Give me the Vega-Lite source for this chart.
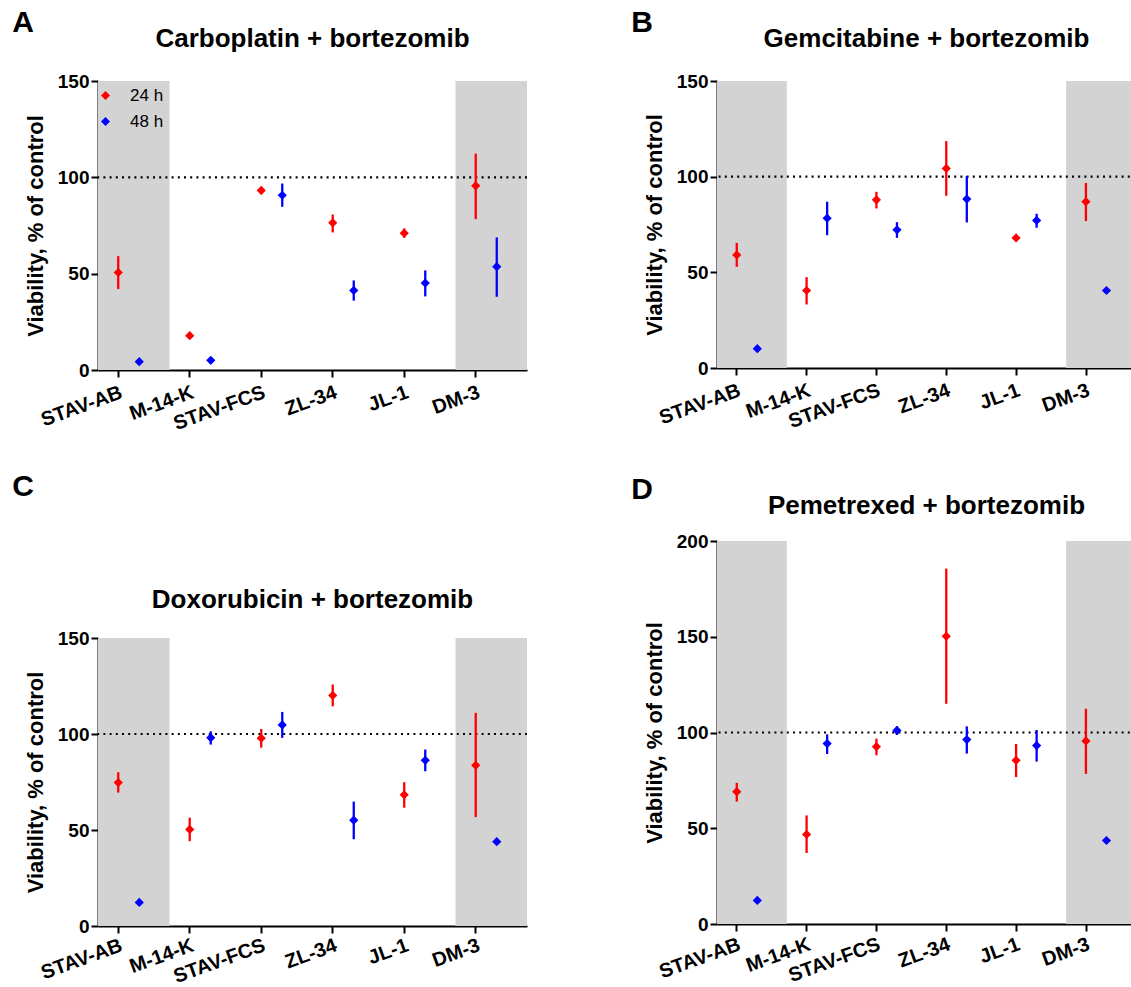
{
  "$schema": "https://vega.github.io/schema/vega-lite/v6.json",
  "padding": {"left": 12, "top": 8, "right": 0, "bottom": 0},
  "background": "white",
  "config": {
    "view": {"stroke": null},
    "font": "Liberation Sans",
    "axis": {"domainColor": "black", "domainWidth": 2, "tickColor": "black", "tickWidth": 2, "tickSize": 7, "labelFont": "Liberation Sans", "labelFontSize": 19, "labelFontWeight": "bold", "labelColor": "black", "titleFont": "Liberation Sans", "titleFontSize": 22, "titleFontWeight": "bold", "titleColor": "black", "grid": false},
    "legend": {"padding": 0, "symbolType": "diamond", "symbolSize": 80, "symbolStrokeWidth": 0, "labelFontSize": 17, "labelFont": "Liberation Sans", "labelFontWeight": "normal", "labelColor": "black", "labelOffset": 16, "rowPadding": 8},
    "title": {"font": "Liberation Sans", "fontWeight": "bold", "color": "black"}
  },
  "datasets": {
    "grey": [{"cell": "STAV-AB"}, {"cell": "DM-3"}],
    "pts": [
      {"panel": "A", "cell": "STAV-AB", "time": "24 h", "mean": 50.6, "lo": 42.0, "hi": 59.1},
      {"panel": "A", "cell": "STAV-AB", "time": "48 h", "mean": 4.3},
      {"panel": "A", "cell": "M-14-K", "time": "24 h", "mean": 17.8},
      {"panel": "A", "cell": "M-14-K", "time": "48 h", "mean": 5.0},
      {"panel": "A", "cell": "STAV-FCS", "time": "24 h", "mean": 93.2, "lo": 91.2, "hi": 95.1},
      {"panel": "A", "cell": "STAV-FCS", "time": "48 h", "mean": 90.7, "lo": 84.7, "hi": 96.8},
      {"panel": "A", "cell": "ZL-34", "time": "24 h", "mean": 76.4, "lo": 71.4, "hi": 80.7},
      {"panel": "A", "cell": "ZL-34", "time": "48 h", "mean": 41.3, "lo": 36.0, "hi": 46.5},
      {"panel": "A", "cell": "JL-1", "time": "24 h", "mean": 71.0, "lo": 68.6, "hi": 73.5},
      {"panel": "A", "cell": "JL-1", "time": "48 h", "mean": 45.1, "lo": 38.2, "hi": 51.7},
      {"panel": "A", "cell": "DM-3", "time": "24 h", "mean": 95.6, "lo": 78.3, "hi": 112.3},
      {"panel": "A", "cell": "DM-3", "time": "48 h", "mean": 53.6, "lo": 38.0, "hi": 68.8},
      {"panel": "B", "cell": "STAV-AB", "time": "24 h", "mean": 59.1, "lo": 52.9, "hi": 65.4},
      {"panel": "B", "cell": "STAV-AB", "time": "48 h", "mean": 10.1},
      {"panel": "B", "cell": "M-14-K", "time": "24 h", "mean": 40.5, "lo": 33.2, "hi": 47.5},
      {"panel": "B", "cell": "M-14-K", "time": "48 h", "mean": 78.3, "lo": 69.4, "hi": 86.9},
      {"panel": "B", "cell": "STAV-FCS", "time": "24 h", "mean": 87.9, "lo": 83.4, "hi": 92.1},
      {"panel": "B", "cell": "STAV-FCS", "time": "48 h", "mean": 72.2, "lo": 68.0, "hi": 76.2},
      {"panel": "B", "cell": "ZL-34", "time": "24 h", "mean": 104.3, "lo": 90.0, "hi": 118.6},
      {"panel": "B", "cell": "ZL-34", "time": "48 h", "mean": 88.3, "lo": 76.1, "hi": 100.3},
      {"panel": "B", "cell": "JL-1", "time": "24 h", "mean": 68.0},
      {"panel": "B", "cell": "JL-1", "time": "48 h", "mean": 77.1, "lo": 73.3, "hi": 80.6},
      {"panel": "B", "cell": "DM-3", "time": "24 h", "mean": 86.9, "lo": 76.8, "hi": 96.7},
      {"panel": "B", "cell": "DM-3", "time": "48 h", "mean": 40.5},
      {"panel": "C", "cell": "STAV-AB", "time": "24 h", "mean": 74.7, "lo": 69.5, "hi": 80.1},
      {"panel": "C", "cell": "STAV-AB", "time": "48 h", "mean": 12.3},
      {"panel": "C", "cell": "M-14-K", "time": "24 h", "mean": 50.3, "lo": 44.2, "hi": 56.4},
      {"panel": "C", "cell": "M-14-K", "time": "48 h", "mean": 98.1, "lo": 94.5, "hi": 101.4},
      {"panel": "C", "cell": "STAV-FCS", "time": "24 h", "mean": 97.8, "lo": 92.9, "hi": 102.6},
      {"panel": "C", "cell": "STAV-FCS", "time": "48 h", "mean": 104.7, "lo": 98.0, "hi": 111.5},
      {"panel": "C", "cell": "ZL-34", "time": "24 h", "mean": 120.1, "lo": 114.4, "hi": 125.8},
      {"panel": "C", "cell": "ZL-34", "time": "48 h", "mean": 55.1, "lo": 45.2, "hi": 64.8},
      {"panel": "C", "cell": "JL-1", "time": "24 h", "mean": 68.3, "lo": 61.6, "hi": 74.9},
      {"panel": "C", "cell": "JL-1", "time": "48 h", "mean": 86.3, "lo": 80.6, "hi": 91.9},
      {"panel": "C", "cell": "DM-3", "time": "24 h", "mean": 83.7, "lo": 56.7, "hi": 111.0},
      {"panel": "C", "cell": "DM-3", "time": "48 h", "mean": 43.9},
      {"panel": "D", "cell": "STAV-AB", "time": "24 h", "mean": 69.1, "lo": 63.9, "hi": 73.7},
      {"panel": "D", "cell": "STAV-AB", "time": "48 h", "mean": 12.3},
      {"panel": "D", "cell": "M-14-K", "time": "24 h", "mean": 46.8, "lo": 37.1, "hi": 56.7},
      {"panel": "D", "cell": "M-14-K", "time": "48 h", "mean": 94.2, "lo": 88.8, "hi": 99.0},
      {"panel": "D", "cell": "STAV-FCS", "time": "24 h", "mean": 92.6, "lo": 88.1, "hi": 96.8},
      {"panel": "D", "cell": "STAV-FCS", "time": "48 h", "mean": 101.1, "lo": 98.7, "hi": 103.2},
      {"panel": "D", "cell": "ZL-34", "time": "24 h", "mean": 150.2, "lo": 115.0, "hi": 185.6},
      {"panel": "D", "cell": "ZL-34", "time": "48 h", "mean": 96.3, "lo": 89.0, "hi": 103.2},
      {"panel": "D", "cell": "JL-1", "time": "24 h", "mean": 85.5, "lo": 76.7, "hi": 94.0},
      {"panel": "D", "cell": "JL-1", "time": "48 h", "mean": 93.2, "lo": 84.8, "hi": 101.3},
      {"panel": "D", "cell": "DM-3", "time": "24 h", "mean": 95.6, "lo": 78.4, "hi": 112.4},
      {"panel": "D", "cell": "DM-3", "time": "48 h", "mean": 43.6}
    ]
  },
  "resolve": {"scale": {"color": "independent", "x": "independent", "y": "independent", "xOffset": "independent"}, "legend": {"color": "independent"}},
  "spacing": 102,
  "hconcat": [
    {
      "spacing": 38,
      "resolve": {"scale": {"color": "independent", "x": "independent", "y": "independent", "xOffset": "independent"}, "legend": {"color": "independent"}},
      "vconcat": [
        {
          "title": {"text": "A", "anchor": "start", "frame": "bounds", "fontSize": 30, "dx": -12, "offset": -12},
          "resolve": {"scale": {"color": "independent", "x": "independent", "y": "independent", "xOffset": "independent"}, "legend": {"color": "independent"}},
          "vconcat": [
            {
              "title": {"text": "Carboplatin + bortezomib", "fontSize": 26, "offset": 20},
              "width": 429, "height": 289,
              "layer": [
                {"data": {"name": "grey"}, "mark": {"type": "bar", "color": "#d3d3d3", "clip": true},
                 "encoding": {
                   "x": {"field": "cell", "type": "nominal", "scale": {"domain": ["STAV-AB", "M-14-K", "STAV-FCS", "ZL-34", "JL-1", "DM-3"], "paddingInner": 0, "paddingOuter": -0.0355, "align": 0}, "axis": {"title": null, "labelAngle": -20, "labelAlign": "right", "labelBaseline": "top", "labelFontSize": 20, "bandPosition": 0.285, "labelOffset": -15.6, "labelPadding": 5}},
                   "y": {"datum": 0, "type": "quantitative", "scale": {"domain": [0, 150], "nice": false}, "axis": {"title": "Viability, % of control", "values": [0, 50, 100, 150], "labelPadding": 2, "titlePadding": 10}},
                   "y2": {"datum": 150}}},
                {"data": {"values": [{}]}, "mark": {"type": "rule", "strokeDash": [2, 4.2], "strokeWidth": 2.2, "color": "black"},
                 "encoding": {"y": {"datum": 100, "type": "quantitative", "scale": {"domain": [0, 150], "nice": false}}}},
                {"data": {"name": "pts"}, "transform": [{"filter": "datum.panel === 'A'"}], "mark": {"type": "rule", "strokeWidth": 2.3},
                 "encoding": {
                   "x": {"field": "cell", "type": "nominal", "scale": {"domain": ["STAV-AB", "M-14-K", "STAV-FCS", "ZL-34", "JL-1", "DM-3"], "paddingInner": 0, "paddingOuter": -0.0355, "align": 0}},
                   "xOffset": {"field": "time", "type": "nominal", "scale": {"domain": ["24 h", "48 h"], "paddingInner": 0, "paddingOuter": 0.7, "align": 0.33}},
                   "y": {"field": "lo", "type": "quantitative", "scale": {"domain": [0, 150], "nice": false}},
                   "y2": {"field": "hi"},
                   "color": {"field": "time", "type": "nominal", "scale": {"domain": ["24 h", "48 h"], "range": ["#ff0000", "#0000ff"]},
                     "legend": {"title": null, "orient": "none", "legendX": -1, "legendY": 6, "padding": 0, "symbolType": "diamond", "symbolSize": 80, "symbolStrokeWidth": 0, "labelFontSize": 17, "labelOffset": 16, "rowPadding": 8}}}},
                {"data": {"name": "pts"}, "transform": [{"filter": "datum.panel === 'A'"}], "mark": {"type": "point", "shape": "diamond", "filled": true, "size": 85, "opacity": 1},
                 "encoding": {
                   "x": {"field": "cell", "type": "nominal", "scale": {"domain": ["STAV-AB", "M-14-K", "STAV-FCS", "ZL-34", "JL-1", "DM-3"], "paddingInner": 0, "paddingOuter": -0.0355, "align": 0}},
                   "xOffset": {"field": "time", "type": "nominal", "scale": {"domain": ["24 h", "48 h"], "paddingInner": 0, "paddingOuter": 0.7, "align": 0.33}},
                   "y": {"field": "mean", "type": "quantitative", "scale": {"domain": [0, 150], "nice": false}},
                   "color": {"field": "time", "type": "nominal", "scale": {"domain": ["24 h", "48 h"], "range": ["#ff0000", "#0000ff"]},
                     "legend": {"title": null, "orient": "none", "legendX": -1, "legendY": 6, "padding": 0, "symbolType": "diamond", "symbolSize": 80, "symbolStrokeWidth": 0, "labelFontSize": 17, "labelOffset": 16, "rowPadding": 8}}}}
              ]
            }
          ]
        },
        {
          "title": {"text": "C", "anchor": "start", "frame": "bounds", "fontSize": 30, "dx": -12, "offset": 85},
          "resolve": {"scale": {"color": "independent", "x": "independent", "y": "independent", "xOffset": "independent"}, "legend": {"color": "independent"}},
          "vconcat": [
            {
              "title": {"text": "Doxorubicin + bortezomib", "fontSize": 26, "offset": 16},
              "width": 429, "height": 288,
              "layer": [
                {"data": {"name": "grey"}, "mark": {"type": "bar", "color": "#d3d3d3", "clip": true},
                 "encoding": {
                   "x": {"field": "cell", "type": "nominal", "scale": {"domain": ["STAV-AB", "M-14-K", "STAV-FCS", "ZL-34", "JL-1", "DM-3"], "paddingInner": 0, "paddingOuter": -0.0355, "align": 0}, "axis": {"title": null, "labelAngle": -20, "labelAlign": "right", "labelBaseline": "top", "labelFontSize": 20, "bandPosition": 0.285, "labelOffset": -15.6, "labelPadding": 2}},
                   "y": {"datum": 0, "type": "quantitative", "scale": {"domain": [0, 150], "nice": false}, "axis": {"title": "Viability, % of control", "values": [0, 50, 100, 150], "labelPadding": 2, "titlePadding": 10}},
                   "y2": {"datum": 150}}},
                {"data": {"values": [{}]}, "mark": {"type": "rule", "strokeDash": [2, 4.2], "strokeWidth": 2.2, "color": "black"},
                 "encoding": {"y": {"datum": 100, "type": "quantitative", "scale": {"domain": [0, 150], "nice": false}}}},
                {"data": {"name": "pts"}, "transform": [{"filter": "datum.panel === 'C'"}], "mark": {"type": "rule", "strokeWidth": 2.3},
                 "encoding": {
                   "x": {"field": "cell", "type": "nominal", "scale": {"domain": ["STAV-AB", "M-14-K", "STAV-FCS", "ZL-34", "JL-1", "DM-3"], "paddingInner": 0, "paddingOuter": -0.0355, "align": 0}},
                   "xOffset": {"field": "time", "type": "nominal", "scale": {"domain": ["24 h", "48 h"], "paddingInner": 0, "paddingOuter": 0.7, "align": 0.33}},
                   "y": {"field": "lo", "type": "quantitative", "scale": {"domain": [0, 150], "nice": false}},
                   "y2": {"field": "hi"},
                   "color": {"field": "time", "type": "nominal", "scale": {"domain": ["24 h", "48 h"], "range": ["#ff0000", "#0000ff"]}, "legend": null}}},
                {"data": {"name": "pts"}, "transform": [{"filter": "datum.panel === 'C'"}], "mark": {"type": "point", "shape": "diamond", "filled": true, "size": 85, "opacity": 1},
                 "encoding": {
                   "x": {"field": "cell", "type": "nominal", "scale": {"domain": ["STAV-AB", "M-14-K", "STAV-FCS", "ZL-34", "JL-1", "DM-3"], "paddingInner": 0, "paddingOuter": -0.0355, "align": 0}},
                   "xOffset": {"field": "time", "type": "nominal", "scale": {"domain": ["24 h", "48 h"], "paddingInner": 0, "paddingOuter": 0.7, "align": 0.33}},
                   "y": {"field": "mean", "type": "quantitative", "scale": {"domain": [0, 150], "nice": false}},
                   "color": {"field": "time", "type": "nominal", "scale": {"domain": ["24 h", "48 h"], "range": ["#ff0000", "#0000ff"]}, "legend": null}}}
              ]
            }
          ]
        }
      ]
    },
    {
      "spacing": 43,
      "resolve": {"scale": {"color": "independent", "x": "independent", "y": "independent", "xOffset": "independent"}, "legend": {"color": "independent"}},
      "vconcat": [
        {
          "title": {"text": "B", "anchor": "start", "frame": "bounds", "fontSize": 30, "dx": -12, "offset": -12},
          "resolve": {"scale": {"color": "independent", "x": "independent", "y": "independent", "xOffset": "independent"}, "legend": {"color": "independent"}},
          "vconcat": [
            {
              "title": {"text": "Gemcitabine + bortezomib", "fontSize": 26, "offset": 20},
              "width": 419, "height": 287,
              "layer": [
                {"data": {"name": "grey"}, "mark": {"type": "bar", "color": "#d3d3d3", "clip": true},
                 "encoding": {
                   "x": {"field": "cell", "type": "nominal", "scale": {"domain": ["STAV-AB", "M-14-K", "STAV-FCS", "ZL-34", "JL-1", "DM-3"], "paddingInner": 0, "paddingOuter": -0.1025, "align": 0}, "axis": {"title": null, "labelAngle": -20, "labelAlign": "right", "labelBaseline": "top", "labelFontSize": 20, "bandPosition": 0.285, "labelOffset": -15.5, "labelPadding": 5}},
                   "y": {"datum": 0, "type": "quantitative", "scale": {"domain": [0, 150], "nice": false}, "axis": {"title": "Viability, % of control", "values": [0, 50, 100, 150], "labelPadding": 2, "titlePadding": 10}},
                   "y2": {"datum": 150}}},
                {"data": {"values": [{}]}, "mark": {"type": "rule", "strokeDash": [2, 4.2], "strokeWidth": 2.2, "color": "black"},
                 "encoding": {"y": {"datum": 100, "type": "quantitative", "scale": {"domain": [0, 150], "nice": false}}}},
                {"data": {"name": "pts"}, "transform": [{"filter": "datum.panel === 'B'"}], "mark": {"type": "rule", "strokeWidth": 2.3},
                 "encoding": {
                   "x": {"field": "cell", "type": "nominal", "scale": {"domain": ["STAV-AB", "M-14-K", "STAV-FCS", "ZL-34", "JL-1", "DM-3"], "paddingInner": 0, "paddingOuter": -0.1025, "align": 0}},
                   "xOffset": {"field": "time", "type": "nominal", "scale": {"domain": ["24 h", "48 h"], "paddingInner": 0, "paddingOuter": 0.7, "align": 0.33}},
                   "y": {"field": "lo", "type": "quantitative", "scale": {"domain": [0, 150], "nice": false}},
                   "y2": {"field": "hi"},
                   "color": {"field": "time", "type": "nominal", "scale": {"domain": ["24 h", "48 h"], "range": ["#ff0000", "#0000ff"]}, "legend": null}}},
                {"data": {"name": "pts"}, "transform": [{"filter": "datum.panel === 'B'"}], "mark": {"type": "point", "shape": "diamond", "filled": true, "size": 85, "opacity": 1},
                 "encoding": {
                   "x": {"field": "cell", "type": "nominal", "scale": {"domain": ["STAV-AB", "M-14-K", "STAV-FCS", "ZL-34", "JL-1", "DM-3"], "paddingInner": 0, "paddingOuter": -0.1025, "align": 0}},
                   "xOffset": {"field": "time", "type": "nominal", "scale": {"domain": ["24 h", "48 h"], "paddingInner": 0, "paddingOuter": 0.7, "align": 0.33}},
                   "y": {"field": "mean", "type": "quantitative", "scale": {"domain": [0, 150], "nice": false}},
                   "color": {"field": "time", "type": "nominal", "scale": {"domain": ["24 h", "48 h"], "range": ["#ff0000", "#0000ff"]}, "legend": null}}}
              ]
            }
          ]
        },
        {
          "title": {"text": "D", "anchor": "start", "frame": "bounds", "fontSize": 30, "dx": -12, "offset": -12},
          "resolve": {"scale": {"color": "independent", "x": "independent", "y": "independent", "xOffset": "independent"}, "legend": {"color": "independent"}},
          "vconcat": [
            {
              "title": {"text": "Pemetrexed + bortezomib", "fontSize": 26, "offset": 13},
              "width": 419, "height": 383,
              "layer": [
                {"data": {"name": "grey"}, "mark": {"type": "bar", "color": "#d3d3d3", "clip": true},
                 "encoding": {
                   "x": {"field": "cell", "type": "nominal", "scale": {"domain": ["STAV-AB", "M-14-K", "STAV-FCS", "ZL-34", "JL-1", "DM-3"], "paddingInner": 0, "paddingOuter": -0.1025, "align": 0}, "axis": {"title": null, "labelAngle": -20, "labelAlign": "right", "labelBaseline": "top", "labelFontSize": 20, "bandPosition": 0.285, "labelOffset": -15.5, "labelPadding": 3}},
                   "y": {"datum": 0, "type": "quantitative", "scale": {"domain": [0, 200], "nice": false}, "axis": {"title": "Viability, % of control", "values": [0, 50, 100, 150, 200], "labelPadding": 2, "titlePadding": 10}},
                   "y2": {"datum": 200}}},
                {"data": {"values": [{}]}, "mark": {"type": "rule", "strokeDash": [2, 4.2], "strokeWidth": 2.2, "color": "black"},
                 "encoding": {"y": {"datum": 100, "type": "quantitative", "scale": {"domain": [0, 200], "nice": false}}}},
                {"data": {"name": "pts"}, "transform": [{"filter": "datum.panel === 'D'"}], "mark": {"type": "rule", "strokeWidth": 2.3},
                 "encoding": {
                   "x": {"field": "cell", "type": "nominal", "scale": {"domain": ["STAV-AB", "M-14-K", "STAV-FCS", "ZL-34", "JL-1", "DM-3"], "paddingInner": 0, "paddingOuter": -0.1025, "align": 0}},
                   "xOffset": {"field": "time", "type": "nominal", "scale": {"domain": ["24 h", "48 h"], "paddingInner": 0, "paddingOuter": 0.7, "align": 0.33}},
                   "y": {"field": "lo", "type": "quantitative", "scale": {"domain": [0, 200], "nice": false}},
                   "y2": {"field": "hi"},
                   "color": {"field": "time", "type": "nominal", "scale": {"domain": ["24 h", "48 h"], "range": ["#ff0000", "#0000ff"]}, "legend": null}}},
                {"data": {"name": "pts"}, "transform": [{"filter": "datum.panel === 'D'"}], "mark": {"type": "point", "shape": "diamond", "filled": true, "size": 85, "opacity": 1},
                 "encoding": {
                   "x": {"field": "cell", "type": "nominal", "scale": {"domain": ["STAV-AB", "M-14-K", "STAV-FCS", "ZL-34", "JL-1", "DM-3"], "paddingInner": 0, "paddingOuter": -0.1025, "align": 0}},
                   "xOffset": {"field": "time", "type": "nominal", "scale": {"domain": ["24 h", "48 h"], "paddingInner": 0, "paddingOuter": 0.7, "align": 0.33}},
                   "y": {"field": "mean", "type": "quantitative", "scale": {"domain": [0, 200], "nice": false}},
                   "color": {"field": "time", "type": "nominal", "scale": {"domain": ["24 h", "48 h"], "range": ["#ff0000", "#0000ff"]}, "legend": null}}}
              ]
            }
          ]
        }
      ]
    }
  ]
}
